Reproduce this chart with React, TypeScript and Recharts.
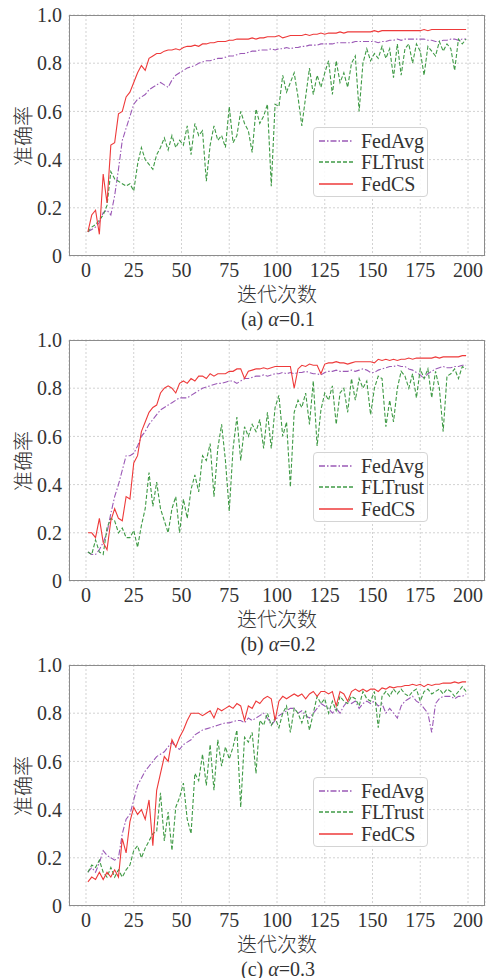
import React from 'react'
import { LineChart, Line, XAxis, YAxis, CartesianGrid, Legend } from 'recharts'

// iterations sampled every 2 rounds
const rounds = Array.from({ length: 100 }, (_, i) => 1 + 2 * i)
const xTicks = [0, 25, 50, 75, 100, 125, 150, 175, 200]
const yTicks = [0, 0.2, 0.4, 0.6, 0.8, 1.0]

// (a) alpha = 0.1
const fedAvgA = [
  0.10, 0.11, 0.12, 0.14, 0.18, 0.19, 0.17, 0.25, 0.36, 0.48,
  0.53, 0.58, 0.63, 0.65, 0.66, 0.67, 0.69, 0.70, 0.71, 0.72,
  0.71, 0.70, 0.73, 0.75, 0.76, 0.77, 0.78, 0.785, 0.79, 0.80,
  0.805, 0.81, 0.81, 0.815, 0.82, 0.82, 0.825, 0.83, 0.83, 0.835,
  0.84, 0.84, 0.845, 0.85, 0.85, 0.855, 0.855, 0.855, 0.86, 0.855,
  0.86, 0.86, 0.865, 0.86, 0.865, 0.865, 0.87, 0.87, 0.875, 0.875,
  0.875, 0.88, 0.88, 0.88, 0.88, 0.885, 0.885, 0.885, 0.885, 0.885,
  0.89, 0.89, 0.89, 0.89, 0.89, 0.89, 0.885, 0.89, 0.89, 0.895,
  0.895, 0.9, 0.895, 0.9, 0.9, 0.9, 0.9, 0.9, 0.9, 0.895,
  0.895, 0.89, 0.89, 0.895, 0.895, 0.9, 0.9, 0.895, 0.9, 0.9,
]
const flTrustA = [
  0.10, 0.12, 0.13, 0.15, 0.17, 0.21, 0.35, 0.32, 0.31, 0.30,
  0.29, 0.30, 0.27, 0.38, 0.45, 0.40, 0.38, 0.36, 0.42, 0.45,
  0.49, 0.44, 0.50, 0.45, 0.48, 0.46, 0.54, 0.42, 0.55, 0.50,
  0.52, 0.31, 0.46, 0.54, 0.48, 0.50, 0.45, 0.62, 0.47, 0.50,
  0.60, 0.55, 0.52, 0.43, 0.61, 0.55, 0.58, 0.63, 0.29, 0.63,
  0.62, 0.75, 0.68, 0.72, 0.76, 0.66, 0.54, 0.66, 0.78, 0.67,
  0.75, 0.70, 0.76, 0.81, 0.67, 0.81, 0.72, 0.76, 0.70, 0.80,
  0.83, 0.60, 0.80, 0.86, 0.81, 0.84, 0.82, 0.87, 0.82, 0.86,
  0.74, 0.88, 0.75, 0.86, 0.88, 0.80, 0.88, 0.85, 0.75, 0.87,
  0.85, 0.83, 0.89, 0.85, 0.88, 0.86, 0.77, 0.90, 0.88, 0.90,
]
const fedCSA = [
  0.10, 0.17, 0.19, 0.09, 0.34, 0.22, 0.46, 0.47, 0.59, 0.60,
  0.66, 0.68, 0.72, 0.76, 0.79, 0.77, 0.82, 0.83, 0.84, 0.84,
  0.85, 0.855, 0.855, 0.86, 0.855, 0.865, 0.87, 0.87, 0.875, 0.87,
  0.88, 0.88, 0.885, 0.885, 0.89, 0.89, 0.89, 0.895, 0.895, 0.90,
  0.90, 0.90, 0.90, 0.905, 0.90, 0.905, 0.905, 0.91, 0.91, 0.91,
  0.915, 0.905, 0.91, 0.915, 0.915, 0.915, 0.915, 0.92, 0.915, 0.92,
  0.92, 0.925, 0.92, 0.925, 0.925, 0.925, 0.93, 0.925, 0.93, 0.93,
  0.93, 0.93, 0.93, 0.93, 0.93, 0.935, 0.93, 0.935, 0.935, 0.935,
  0.935, 0.935, 0.935, 0.935, 0.935, 0.935, 0.935, 0.935, 0.94, 0.935,
  0.94, 0.94, 0.94, 0.94, 0.94, 0.94, 0.94, 0.94, 0.94, 0.94,
]

// (b) alpha = 0.2
const fedAvgB = [
  0.12, 0.11, 0.11, 0.13, 0.16, 0.20, 0.28, 0.35, 0.40, 0.46,
  0.52, 0.52, 0.53, 0.56, 0.60, 0.62, 0.65, 0.67, 0.69, 0.71,
  0.72, 0.73, 0.74, 0.75, 0.76, 0.76, 0.76, 0.77, 0.78, 0.79,
  0.80, 0.805, 0.81, 0.815, 0.82, 0.82, 0.825, 0.83, 0.83, 0.82,
  0.83, 0.84, 0.84, 0.845, 0.85, 0.85, 0.855, 0.85, 0.855, 0.86,
  0.86, 0.865, 0.86, 0.865, 0.86, 0.865, 0.865, 0.87, 0.865, 0.86,
  0.86, 0.855, 0.865, 0.87, 0.87, 0.875, 0.87, 0.87, 0.87, 0.875,
  0.87, 0.875, 0.88, 0.875, 0.865, 0.865, 0.875, 0.88, 0.885, 0.89,
  0.89, 0.895, 0.89, 0.89, 0.88, 0.875, 0.865, 0.855, 0.84, 0.86,
  0.87, 0.88, 0.885, 0.89, 0.885, 0.885, 0.89, 0.89, 0.895, 0.895,
]
const flTrustB = [
  0.12, 0.11, 0.17, 0.12, 0.11, 0.22, 0.26, 0.25, 0.20, 0.22,
  0.18, 0.18, 0.21, 0.14, 0.23, 0.30, 0.45, 0.31, 0.41, 0.30,
  0.25, 0.20, 0.30, 0.35, 0.20, 0.34, 0.26, 0.38, 0.44, 0.37,
  0.52, 0.50, 0.57, 0.35, 0.55, 0.65, 0.50, 0.29, 0.55, 0.68,
  0.50, 0.64, 0.60, 0.65, 0.62, 0.67, 0.55, 0.70, 0.55, 0.72,
  0.77, 0.60, 0.66, 0.39, 0.70, 0.75, 0.72, 0.78, 0.65, 0.83,
  0.56, 0.71, 0.78, 0.75, 0.81, 0.65, 0.78, 0.80, 0.70, 0.84,
  0.75, 0.84, 0.80, 0.83, 0.69, 0.80, 0.85, 0.84, 0.64, 0.75,
  0.66, 0.80, 0.87, 0.85, 0.80, 0.86, 0.76, 0.88, 0.84, 0.88,
  0.76, 0.87, 0.80, 0.62, 0.85, 0.86, 0.88, 0.84, 0.89, 0.88,
]
const fedCSB = [
  0.20, 0.20, 0.18, 0.26, 0.16, 0.13, 0.25, 0.30, 0.26, 0.25,
  0.35, 0.34, 0.49, 0.52, 0.62, 0.66, 0.70, 0.72, 0.73, 0.78,
  0.80, 0.81, 0.80, 0.78, 0.82, 0.83, 0.82, 0.84, 0.83, 0.85,
  0.85, 0.84, 0.86, 0.85, 0.86, 0.86, 0.86, 0.87, 0.87, 0.88,
  0.88, 0.84, 0.87, 0.875, 0.88, 0.88, 0.885, 0.88, 0.885, 0.89,
  0.89, 0.89, 0.89, 0.89, 0.80, 0.88, 0.895, 0.89, 0.90, 0.895,
  0.895, 0.86, 0.90, 0.905, 0.905, 0.91, 0.905, 0.905, 0.90, 0.905,
  0.91, 0.91, 0.91, 0.91, 0.91, 0.905, 0.92, 0.915, 0.92, 0.915,
  0.92, 0.915, 0.92, 0.92, 0.925, 0.92, 0.925, 0.925, 0.925, 0.925,
  0.925, 0.93, 0.925, 0.93, 0.93, 0.93, 0.93, 0.93, 0.935, 0.935,
]

// (c) alpha = 0.3
const fedAvgC = [
  0.14, 0.16, 0.14, 0.18, 0.23, 0.21, 0.20, 0.19, 0.20, 0.30,
  0.36, 0.38, 0.44, 0.50, 0.53, 0.56, 0.58, 0.60, 0.62, 0.63,
  0.64, 0.66, 0.68, 0.66, 0.65, 0.67, 0.68, 0.69, 0.71, 0.72,
  0.73, 0.735, 0.74, 0.745, 0.75, 0.755, 0.76, 0.76, 0.765, 0.77,
  0.77, 0.76, 0.78, 0.77, 0.78, 0.79, 0.80, 0.78, 0.75, 0.77,
  0.79, 0.80, 0.81, 0.82, 0.82, 0.80, 0.81, 0.79, 0.78, 0.80,
  0.82, 0.84, 0.83, 0.82, 0.80, 0.82, 0.80, 0.83, 0.85, 0.84,
  0.85, 0.82, 0.84, 0.85, 0.84, 0.85, 0.83, 0.84, 0.80, 0.82,
  0.80, 0.78, 0.83, 0.85, 0.86, 0.87, 0.85, 0.84, 0.82, 0.80,
  0.72, 0.84, 0.86, 0.87, 0.87, 0.87, 0.86, 0.87, 0.87, 0.88,
]
const flTrustC = [
  0.14, 0.17, 0.16, 0.19, 0.14, 0.12, 0.16, 0.12, 0.15, 0.12,
  0.15, 0.17, 0.23, 0.25, 0.20, 0.24, 0.27, 0.30, 0.31, 0.47,
  0.27, 0.39, 0.23, 0.41, 0.45, 0.51, 0.36, 0.30, 0.55, 0.52,
  0.63, 0.50, 0.67, 0.48, 0.69, 0.58, 0.66, 0.61, 0.66, 0.73,
  0.41, 0.70, 0.68, 0.72, 0.55, 0.77, 0.75, 0.80, 0.75, 0.78,
  0.74, 0.80, 0.83, 0.72, 0.82, 0.80, 0.76, 0.81, 0.73, 0.80,
  0.87, 0.84, 0.86, 0.80, 0.85, 0.81, 0.87, 0.85, 0.84, 0.87,
  0.86, 0.83, 0.89, 0.86, 0.85, 0.89, 0.74, 0.87, 0.89, 0.87,
  0.90, 0.88, 0.90, 0.88, 0.87, 0.89, 0.90, 0.85, 0.89, 0.90,
  0.88, 0.89, 0.90, 0.88, 0.90, 0.89, 0.87, 0.89, 0.91, 0.89,
]
const fedCSC = [
  0.10, 0.12, 0.11, 0.14, 0.11, 0.14, 0.12, 0.15, 0.12, 0.28,
  0.22, 0.35, 0.41, 0.38, 0.40, 0.36, 0.44, 0.25, 0.48, 0.55,
  0.62, 0.60, 0.69, 0.66, 0.70, 0.73, 0.77, 0.80, 0.80, 0.80,
  0.79, 0.80, 0.81, 0.78, 0.82, 0.81, 0.82, 0.83, 0.82, 0.84,
  0.83, 0.77, 0.83, 0.82, 0.85, 0.84, 0.86, 0.87, 0.86, 0.77,
  0.85, 0.87, 0.86, 0.87, 0.88, 0.87, 0.88, 0.86, 0.88, 0.89,
  0.87, 0.89, 0.89, 0.88, 0.89, 0.83, 0.89, 0.88, 0.85, 0.89,
  0.90, 0.89, 0.90, 0.89, 0.90, 0.90, 0.89, 0.905, 0.90, 0.91,
  0.905, 0.91, 0.91, 0.915, 0.915, 0.92, 0.915, 0.92, 0.91, 0.92,
  0.915, 0.92, 0.92, 0.925, 0.925, 0.925, 0.93, 0.925, 0.93, 0.93,
]

const panels = [
  { tag: '(a)', alpha: '0.1', fedAvg: fedAvgA, flTrust: flTrustA, fedCS: fedCSA },
  { tag: '(b)', alpha: '0.2', fedAvg: fedAvgB, flTrust: flTrustB, fedCS: fedCSB },
  { tag: '(c)', alpha: '0.3', fedAvg: fedAvgC, flTrust: flTrustC, fedCS: fedCSC },
]

const FONT = "'Liberation Serif', 'Times New Roman', 'Noto Sans CJK SC', serif"
const TEXT = '#333'

const series = [
  { key: 'FedAvg', color: '#9b59b6', dash: '6 2 1.5 2' },
  { key: 'FLTrust', color: '#3f9a45', dash: '4 2' },
  { key: 'FedCS', color: '#ee3a3a', dash: undefined },
]

const renderLegend = () => (
  <div
    style={{
      width: 115,
      height: 70,
      boxSizing: 'border-box',
      border: '1px solid #d4d4d4',
      borderRadius: 4,
      background: 'rgba(255,255,255,0.85)',
      paddingTop: 2,
      fontFamily: FONT,
      fontSize: 20,
      color: TEXT,
    }}
  >
    {series.map((s) => (
      <div key={s.key} style={{ display: 'flex', alignItems: 'center', height: 21.5 }}>
        <svg width={47} height={10} style={{ flex: 'none' }}>
          <line x1={5} y1={5} x2={39} y2={5} stroke={s.color} strokeWidth={1.3} strokeDasharray={s.dash} />
        </svg>
        <span style={{ lineHeight: '20px' }}>{s.key}</span>
      </div>
    ))}
  </div>
)

const cjk: React.CSSProperties = {
  position: 'absolute',
  fontFamily: FONT,
  fontSize: 20,
  fontWeight: 300,
  color: TEXT,
  whiteSpace: 'nowrap',
}

function Panel({ p }: { p: (typeof panels)[number] }) {
  const data = rounds.map((r, i) => ({
    round: r,
    FedAvg: p.fedAvg[i],
    FLTrust: p.flTrust[i],
    FedCS: p.fedCS[i],
  }))

  return (
    <div style={{ position: 'relative', width: 488, height: 325 }}>
      <LineChart width={488} height={290} data={data} margin={{ top: 15, right: 3, bottom: 0, left: 0 }}>
        <CartesianGrid stroke="#d2d2d2" strokeDasharray="2 2" />
        <XAxis
          dataKey="round"
          type="number"
          domain={[-8.9, 208.9]}
          ticks={xTicks}
          allowDataOverflow
          height={34}
          tickLine={false}
          axisLine={false}
          tickSize={0}
          tickMargin={7}
          tick={{ fontSize: 20, fill: TEXT, fontFamily: FONT }}
        />
        <YAxis
          type="number"
          domain={[0, 1]}
          ticks={yTicks}
          width={69}
          tickLine={false}
          axisLine={false}
          tickSize={0}
          tickMargin={7}
          tickFormatter={(v: number) => (v === 0 ? '0' : v.toFixed(1))}
          tick={{ fontSize: 20, fill: TEXT, fontFamily: FONT }}
        />
        {series.map((s) => (
          <Line
            key={s.key}
            type="linear"
            dataKey={s.key}
            stroke={s.color}
            strokeWidth={1.1}
            strokeDasharray={s.dash}
            dot={false}
            isAnimationActive={false}
          />
        ))}
        <Legend
          layout="horizontal"
          verticalAlign="middle"
          align="center"
          content={renderLegend}
          wrapperStyle={{ left: 313, top: 127, width: 115, height: 70 }}
        />
      </LineChart>
      {/* plot frame */}
      <div
        style={{
          position: 'absolute',
          left: 69,
          top: 15,
          width: 416,
          height: 241,
          boxSizing: 'border-box',
          border: '1.5px solid #8c8c8c',
          pointerEvents: 'none',
        }}
      />
      <div style={{ ...cjk, left: 22, top: 135.5, transform: 'translate(-50%, -50%) rotate(-90deg)' }}>准确率</div>
      <div style={{ ...cjk, left: 277, top: 293, transform: 'translate(-50%, -50%)' }}>迭代次数</div>
      <div style={{ ...cjk, fontWeight: 400, left: 278, top: 319, transform: 'translate(-50%, -50%)' }}>
        {p.tag} <i>α</i>={p.alpha}
      </div>
    </div>
  )
}

export default function App() {
  return (
    <div style={{ width: 488, height: 978, background: '#fff', overflow: 'hidden' }}>
      <style>{'body{margin:0}'}</style>
      {panels.map((p) => (
        <Panel key={p.tag} p={p} />
      ))}
    </div>
  )
}
